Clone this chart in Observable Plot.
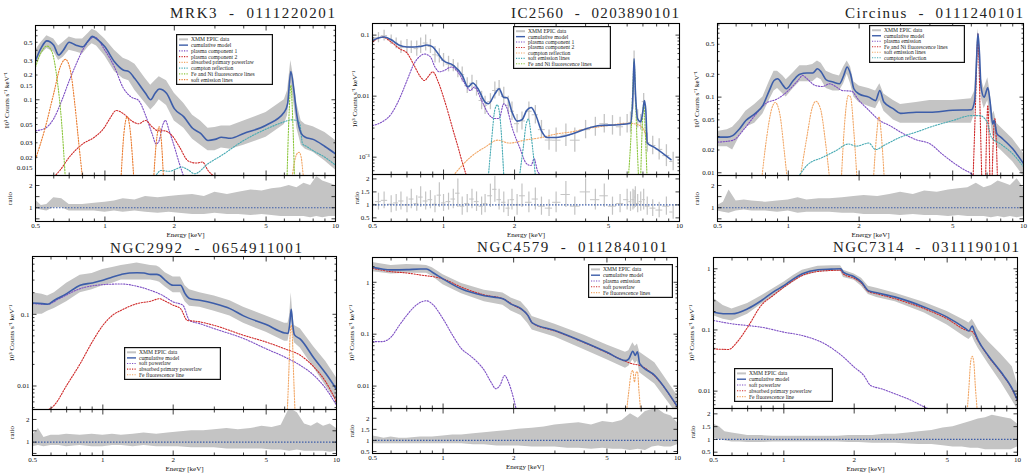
<!DOCTYPE html>
<html><head><meta charset="utf-8">
<script src="https://cdn.jsdelivr.net/npm/d3@7"></script>
<script src="https://cdn.jsdelivr.net/npm/@observablehq/plot@0.6"></script>
<style>
html,body{margin:0;padding:0;background:#fff;}
#root{position:relative;width:1030px;height:474px;overflow:hidden;background:#fff;font-family:"Liberation Serif",serif;}
</style></head><body><div id="root"></div>
<script>
// ---------- colours ----------
const GREY="#c4c4c4", BLUE="#3c5da9", PURPLE="#7d4fc4", RED="#cf2a2a", LORANGE="#f2a766", ORANGE="#ea7b2e", TEAL="#46aab3", GREEN="#8cc63e";

// ---------- shared axes ----------
const X_TICKS = [0.5, 1, 2, 5, 10];
const X_MINOR = [0.6, 0.7, 0.8, 0.9, 3, 4, 6, 7, 8, 9];
const R_E = [0.5,0.53,0.56,0.6,0.65,0.7,0.8,0.9,1,1.1,1.2,1.35,1.5,1.7,1.9,2.1,2.4,2.7,3,3.4,3.8,4.3,4.8,5.3,5.8,6.3,6.8,7.3,7.8,8.3,8.8,9.4,10];

// ---------- MRK3 ----------
const mrk3_title = "MRK3  -  0111220201";
const mrk3_yTicks = [0.7,0.5,0.3,0.2,0.15,0.1,0.08,0.05,0.03,0.02,0.015];
const mrk3_rTicks = [1,2];
const mrk3_E = [0.5,0.53,0.56,0.6,0.63,0.66,0.7,0.75,0.8,0.85,0.88,0.92,1.0,1.1,1.2,1.27,1.35,1.5,1.58,1.65,1.72,1.85,2.0,2.2,2.4,2.6,2.8,3.0,3.2,3.5,4.0,5.0,6.0,6.2,6.4,6.6,6.8,7.1,7.4,8,9,10];
const mrk3_model = [0.3,0.43,0.52,0.46,0.35,0.4,0.5,0.46,0.44,0.53,0.59,0.55,0.44,0.29,0.23,0.22,0.18,0.12,0.1,0.12,0.135,0.12,0.078,0.062,0.045,0.039,0.032,0.033,0.035,0.034,0.039,0.049,0.071,0.09,0.22,0.13,0.064,0.039,0.035,0.033,0.027,0.022];
const mrk3_lo = [0.25,0.36,0.42,0.38,0.3,0.33,0.4,0.38,0.36,0.44,0.48,0.45,0.34,0.22,0.18,0.17,0.13,0.09,0.075,0.085,0.1,0.085,0.055,0.045,0.033,0.028,0.024,0.024,0.026,0.025,0.028,0.035,0.05,0.065,0.16,0.09,0.045,0.028,0.025,0.023,0.018,0.014];
const mrk3_hi = [0.4,0.5,0.6,0.55,0.45,0.5,0.58,0.55,0.55,0.65,0.72,0.68,0.55,0.4,0.32,0.3,0.27,0.18,0.15,0.17,0.19,0.17,0.12,0.09,0.065,0.055,0.045,0.046,0.048,0.048,0.055,0.07,0.1,0.13,0.3,0.18,0.09,0.055,0.05,0.047,0.04,0.032];
const mrk3_p1_E = [0.5,0.55,0.6,0.65,0.7,0.75,0.8,0.85,0.9,1.0,1.1,1.2,1.3,1.4,1.5,1.6,1.67,1.72,1.78,1.83,1.9,2.0,2.1,2.2];
const mrk3_p1_V = [0.042,0.045,0.059,0.098,0.17,0.27,0.4,0.52,0.58,0.4,0.25,0.14,0.108,0.098,0.065,0.039,0.029,0.032,0.049,0.056,0.042,0.027,0.017,0.0115];
const mrk3_p2_E = [0.59,0.64,0.7,0.8,0.9,1.0,1.05,1.12,1.2,1.3,1.4,1.5,1.6,1.7,1.8,1.95,2.1,2.3,2.5,2.65,2.8,3.1];
const mrk3_p2_V = [0.011,0.014,0.02,0.029,0.035,0.047,0.059,0.074,0.068,0.056,0.051,0.056,0.047,0.042,0.042,0.037,0.027,0.018,0.017,0.0175,0.0138,0.011];
const mrk3_abs_E = [6.45,6.6,6.8,6.95,7.1,7.25,7.4];
const mrk3_abs_V = [0.01,0.016,0.022,0.023,0.02,0.012,0.009];
const mrk3_cr_E = [1.65,1.75,1.9,2.05,2.15,2.3,2.45,2.8,3.2,4,5,6,6.4,6.8,7.0,7.2,7.5,8,9,10];
const mrk3_cr_V = [0.0115,0.0138,0.0135,0.0145,0.0152,0.014,0.0126,0.0167,0.021,0.032,0.044,0.054,0.057,0.056,0.051,0.029,0.027,0.024,0.02,0.016];
const mrk3_fe_E = [[0.5,0.53,0.56,0.59,0.62,0.65,0.675],[6.15,6.28,6.4,6.52,6.65]];
const mrk3_fe_V = [[0.25,0.38,0.45,0.38,0.18,0.05,0.01],[0.009,0.06,0.15,0.06,0.009]];
const mrk3_soft_E = [[0.5,0.55,0.6,0.64,0.675,0.71,0.74,0.77,0.8],[1.17,1.21,1.25,1.29,1.34],[1.62,1.67,1.72,1.76,1.8]];
const mrk3_soft_V = [[0.019,0.045,0.12,0.25,0.31,0.22,0.09,0.03,0.011],[0.009,0.04,0.062,0.04,0.009],[0.009,0.03,0.047,0.03,0.009]];
const mrk3_rlo = [0.95,0.9,0.85,1.0,1.0,0.85,0.85,0.85,0.8,0.85,0.8,0.85,0.8,0.75,0.8,0.75,0.7,0.7,0.75,0.7,0.7,0.65,0.7,0.65,0.6,0.6,0.6,0.6,0.55,0.6,0.55,0.6,0.6];
const mrk3_rhi = [1.35,1.1,1.15,1.45,1.4,1.15,1.15,1.2,1.25,1.3,1.4,1.35,1.5,1.45,1.5,1.55,1.6,1.5,1.7,1.6,1.7,1.8,1.75,1.85,1.9,2.0,1.9,2.1,2.0,2.4,2.2,2.1,2.0];

// ---------- IC2560 ----------
const ic_title = "IC2560  -  0203890101";
const ic_yTicks = [0.1,0.01,0.001];
const ic_rTicks = [0.5,1,1.5,2];
const ic_E = [0.5,0.53,0.56,0.6,0.65,0.7,0.75,0.8,0.85,0.9,0.95,1.0,1.1,1.2,1.27,1.33,1.4,1.5,1.55,1.65,1.72,1.8,1.86,1.95,2.05,2.15,2.25,2.35,2.45,2.6,2.75,3.0,3.5,4.0,4.6,5.5,6.2,6.35,6.42,6.5,6.65,6.85,7.0,7.1,7.2,7.3,7.8,9.2];
const ic_model = [0.082,0.09,0.093,0.084,0.068,0.064,0.064,0.065,0.069,0.064,0.049,0.038,0.032,0.022,0.0141,0.0164,0.0132,0.008,0.0075,0.0109,0.0132,0.0095,0.0094,0.0055,0.0039,0.0041,0.0058,0.0065,0.0051,0.0027,0.0021,0.0021,0.0024,0.0029,0.0033,0.0034,0.0036,0.011,0.041,0.0124,0.0042,0.0038,0.0058,0.0085,0.0058,0.0017,0.00146,0.00091];
const ic_dE = [0.5,0.53,0.56,0.6,0.63,0.66,0.7,0.73,0.77,0.8,0.84,0.88,0.92,0.96,1.0,1.05,1.1,1.15,1.2,1.26,1.32,1.38,1.45,1.5,1.58,1.65,1.72,1.8,1.88,1.95,2.05,2.15,2.3,2.45,2.6,2.8,3.0,3.3,3.6,4.0,4.4,4.8,5.2,5.6,6.0,6.2,6.35,6.42,6.5,6.65,6.85,7.05,7.3,7.7,8.2,8.8,9.4];
const ic_lo = [0.07,0.075,0.08,0.07,0.06,0.05,0.05,0.05,0.045,0.05,0.055,0.05,0.035,0.035,0.03,0.025,0.025,0.02,0.017,0.011,0.012,0.01,0.006,0.005,0.006,0.009,0.01,0.007,0.005,0.004,0.0025,0.0028,0.004,0.0035,0.002,0.0013,0.0012,0.0015,0.0012,0.002,0.0022,0.0025,0.0023,0.0022,0.0025,0.0025,0.006,0.03,0.008,0.003,0.0028,0.006,0.0012,0.0011,0.0009,0.0007,0.0006];
const ic_hi = [0.1,0.11,0.12,0.1,0.09,0.08,0.085,0.08,0.08,0.09,0.1,0.085,0.065,0.06,0.05,0.045,0.04,0.035,0.03,0.02,0.022,0.018,0.012,0.01,0.011,0.017,0.018,0.014,0.01,0.008,0.005,0.0055,0.008,0.007,0.004,0.0028,0.003,0.0035,0.003,0.004,0.0045,0.005,0.0048,0.0045,0.005,0.0055,0.014,0.055,0.015,0.006,0.005,0.011,0.0025,0.0022,0.002,0.0016,0.0012];
const ic_rlo = [0.75,0.8,0.85,0.7,0.75,0.8,0.7,0.85,0.75,0.9,0.8,0.85,0.7,0.9,0.75,0.8,0.85,0.9,0.6,0.7,0.85,0.75,0.6,0.7,0.9,1.1,0.8,0.7,0.55,0.8,0.6,0.9,0.7,0.8,0.6,0.55,0.7,0.9,0.6,1.0,0.8,0.9,0.6,0.7,0.8,0.75,0.8,0.85,0.9,0.7,0.75,0.8,0.6,0.55,0.5,0.6,0.45];
const ic_rhi = [1.3,1.45,1.5,1.35,1.4,1.5,1.3,1.6,1.35,1.7,1.5,1.55,1.35,1.85,1.4,1.45,1.6,2.0,1.3,1.4,1.6,1.5,1.3,1.4,1.8,2.1,1.6,1.5,1.2,1.6,1.4,1.8,1.5,1.65,1.3,1.2,1.5,1.9,1.3,2.0,1.6,1.8,1.3,1.4,1.6,1.5,1.6,1.55,1.7,1.4,1.5,1.6,1.3,1.2,1.1,1.3,1.0];
const ic_p1_E = [0.5,0.55,0.6,0.65,0.7,0.75,0.8,0.83,0.88,0.92,0.96,1.0,1.08,1.15,1.22,1.3,1.35,1.45,1.55,1.65,1.72,1.8,1.85,1.95,2.1,2.25,2.35,2.42,2.5,2.6];
const ic_p1_V = [0.0033,0.0038,0.0051,0.009,0.018,0.034,0.046,0.049,0.044,0.03,0.025,0.026,0.03,0.025,0.017,0.0124,0.0141,0.0085,0.0051,0.0043,0.0043,0.0075,0.0066,0.0031,0.00145,0.00078,0.00073,0.00094,0.0006,0.0005];
const ic_p2_E = [0.5,0.55,0.6,0.65,0.7,0.75,0.8,0.83,0.87,0.9,0.95,1.0,1.05,1.1,1.15,1.2,1.25];
const ic_p2_V = [0.077,0.093,0.077,0.06,0.051,0.032,0.0205,0.018,0.022,0.025,0.017,0.0096,0.0051,0.0027,0.0015,0.00083,0.0005];
const ic_cr_E = [1.1,1.3,1.5,1.7,1.9,2.2,2.6,3.0,3.5,4,5,6,6.5,7,7.3];
const ic_cr_V = [0.0005,0.001,0.00146,0.0019,0.0017,0.0019,0.0021,0.0024,0.0026,0.0029,0.0033,0.0036,0.0035,0.003,0.0017];
const ic_soft_E = [[1.55,1.6,1.65,1.69,1.74,1.8],[2.1,2.18,2.24,2.29,2.36,2.45]];
const ic_soft_V = [[0.0005,0.002,0.006,0.0072,0.004,0.0005],[0.0005,0.0015,0.0035,0.0042,0.002,0.0005]];
const ic_fe_E = [[6.08,6.25,6.35,6.42,6.5,6.6,6.7],[6.85,6.95,7.05,7.15,7.28]];
const ic_fe_V = [[0.0005,0.003,0.015,0.038,0.012,0.002,0.0005],[0.0005,0.003,0.0075,0.003,0.0005]];

// ---------- Circinus ----------
const cir_title = "Circinus  -  0111240101";
const cir_yTicks = [0.5,0.2,0.1,0.05,0.02,0.01];
const cir_rTicks = [1,2];
const cir_E = [0.5,0.55,0.58,0.62,0.66,0.72,0.78,0.83,0.87,0.9,0.95,0.98,1.05,1.12,1.2,1.27,1.33,1.38,1.45,1.55,1.65,1.72,1.78,1.84,1.9,2.0,2.2,2.35,2.45,2.55,2.8,3.0,3.5,4.0,5.0,6.0,6.2,6.3,6.4,6.5,6.6,6.8,7.05,7.2,7.4,7.5,7.7,8.0,9.0,10];
const cir_model = [0.0296,0.0296,0.031,0.038,0.049,0.06,0.078,0.122,0.166,0.175,0.143,0.129,0.166,0.2,0.208,0.208,0.237,0.215,0.169,0.158,0.15,0.193,0.25,0.2,0.129,0.11,0.1,0.09,0.122,0.086,0.07,0.061,0.063,0.063,0.067,0.068,0.09,0.25,0.69,0.37,0.136,0.1,0.133,0.09,0.044,0.049,0.033,0.0296,0.0207,0.0132];
const cir_lo = [0.022,0.022,0.02,0.03,0.04,0.045,0.06,0.09,0.12,0.13,0.11,0.1,0.13,0.16,0.16,0.16,0.18,0.17,0.13,0.12,0.12,0.15,0.2,0.15,0.1,0.085,0.075,0.07,0.09,0.065,0.05,0.045,0.045,0.045,0.045,0.045,0.06,0.18,0.55,0.28,0.1,0.07,0.09,0.06,0.03,0.033,0.022,0.02,0.014,0.009];
const cir_hi = [0.035,0.037,0.04,0.05,0.065,0.08,0.1,0.16,0.22,0.22,0.19,0.17,0.21,0.26,0.26,0.27,0.3,0.28,0.22,0.2,0.19,0.25,0.3,0.25,0.16,0.14,0.13,0.12,0.15,0.11,0.09,0.08,0.085,0.09,0.09,0.095,0.12,0.32,0.8,0.5,0.18,0.13,0.18,0.12,0.06,0.065,0.045,0.04,0.028,0.018];
const cir_pl_E = [0.5,0.58,0.65,0.72,0.8,0.9,1.0,1.1,1.15,1.2,1.3,1.4,1.5,1.6,1.7,1.85,2.0,2.2,2.45,2.7,3.0,3.5,4.0,4.5,5.0,5.5,6.0,6.3];
const cir_pl_V = [0.0254,0.0268,0.038,0.057,0.082,0.095,0.122,0.166,0.193,0.175,0.143,0.138,0.15,0.136,0.122,0.12,0.09,0.067,0.049,0.042,0.0345,0.0273,0.0242,0.0178,0.0138,0.0113,0.0097,0.0085];
const cir_fe_E = [[6.1,6.25,6.35,6.4,6.45,6.55,6.65],[6.9,6.98,7.05,7.12,7.2],[7.35,7.45,7.55,7.65,7.75]];
const cir_fe_V = [[0.008,0.08,0.4,0.68,0.4,0.05,0.008],[0.008,0.04,0.078,0.04,0.008],[0.008,0.03,0.052,0.03,0.008]];
const cir_soft_E = [[0.77,0.81,0.85,0.88,0.92,0.96,0.99],[1.12,1.2,1.26,1.31,1.37,1.44,1.5],[1.68,1.74,1.8,1.84,1.9,1.96],[2.3,2.37,2.43,2.49,2.56]];
const cir_soft_V = [[0.008,0.03,0.07,0.085,0.06,0.02,0.008],[0.008,0.03,0.07,0.088,0.07,0.025,0.008],[0.008,0.05,0.105,0.1,0.035,0.008],[0.008,0.03,0.055,0.03,0.008]];
const cir_cr_E = [1.12,1.2,1.4,1.6,1.8,1.95,2.2,2.35,2.6,3,3.5,4,5,6,6.5,7,7.3,8,9,10];
const cir_cr_V = [0.0095,0.0125,0.016,0.0197,0.024,0.0225,0.0247,0.0203,0.0237,0.0296,0.0345,0.04,0.049,0.057,0.057,0.047,0.0296,0.024,0.0178,0.012];
const cir_rlo = [0.85,0.8,0.75,0.85,0.9,0.85,0.85,0.8,0.85,0.75,0.8,0.8,0.8,0.75,0.75,0.7,0.7,0.7,0.65,0.7,0.65,0.65,0.6,0.65,0.6,0.6,0.6,0.55,0.6,0.55,0.6,0.55,0.6];
const cir_rhi = [1.1,1.25,1.8,1.3,1.35,1.3,1.25,1.3,1.35,1.45,1.35,1.4,1.4,1.45,1.5,1.55,1.5,1.6,1.7,1.6,1.75,1.7,1.8,1.85,1.9,2.1,1.9,2.0,2.2,2.1,2.0,2.3,1.9];

// ---------- NGC2992 ----------
const n2992_title = "NGC2992  -  0654911001";
const n2992_yTicks = [0.1,0.01];
const n2992_rTicks = [1,2];
const n2992_E = [0.5,0.55,0.58,0.62,0.7,0.8,0.9,1.0,1.1,1.2,1.3,1.4,1.5,1.6,1.7,1.75,1.85,2.0,2.15,2.25,2.35,2.6,3.0,3.5,4.0,5.0,6.0,6.2,6.3,6.4,6.5,6.6,7.0,8.0,9.0,10];
const n2992_model = [0.144,0.141,0.138,0.157,0.194,0.254,0.274,0.298,0.332,0.36,0.377,0.38,0.377,0.36,0.36,0.35,0.298,0.254,0.254,0.194,0.166,0.157,0.141,0.12,0.095,0.072,0.055,0.054,0.07,0.117,0.07,0.052,0.045,0.0246,0.0149,0.009];
const n2992_lo = [0.1,0.1,0.11,0.12,0.15,0.2,0.22,0.25,0.27,0.3,0.3,0.3,0.3,0.3,0.29,0.28,0.24,0.2,0.2,0.15,0.13,0.125,0.11,0.095,0.075,0.056,0.042,0.042,0.055,0.09,0.055,0.04,0.034,0.018,0.01,0.006];
const n2992_hi = [0.2,0.19,0.18,0.2,0.27,0.35,0.37,0.42,0.45,0.48,0.5,0.52,0.5,0.48,0.47,0.45,0.38,0.33,0.33,0.25,0.22,0.2,0.18,0.155,0.125,0.095,0.075,0.075,0.095,0.2,0.1,0.07,0.063,0.035,0.022,0.013];
const n2992_sp_E = [0.5,0.58,0.65,0.8,1.0,1.2,1.4,1.6,1.8,2.0,2.2,2.35,2.6,3.0,4.0,5.0,6.0,7.0,8.0,9.0,10];
const n2992_sp_V = [0.141,0.138,0.165,0.228,0.259,0.265,0.246,0.216,0.184,0.149,0.134,0.082,0.074,0.063,0.046,0.033,0.0254,0.0194,0.0141,0.0092,0.0054];
const n2992_ap_E = [0.56,0.62,0.7,0.8,0.9,1.0,1.1,1.2,1.4,1.6,1.75,1.85,2.0,2.15,2.3,2.5,3.0,4.0,5.0,6.0,7.0,8.0,9.0,10];
const n2992_ap_V = [0.0044,0.0054,0.0102,0.0205,0.041,0.07,0.097,0.114,0.141,0.152,0.165,0.152,0.134,0.12,0.082,0.08,0.07,0.051,0.041,0.033,0.0268,0.0184,0.0114,0.006];
const n2992_fe_E = [[6.15,6.25,6.33,6.4,6.47,6.55,6.65]];
const n2992_fe_V = [[0.004,0.015,0.05,0.07,0.05,0.015,0.004]];
const n2992_rlo = [0.8,0.85,0.8,0.85,0.85,0.8,0.85,0.8,0.8,0.85,0.85,0.8,0.85,0.8,0.8,0.8,0.75,0.75,0.75,0.7,0.7,0.7,0.7,0.65,0.65,0.6,0.65,0.6,0.6,0.6,0.6,0.55,0.6];
const n2992_rhi = [1.3,1.6,1.2,1.3,1.3,1.35,1.3,1.35,1.3,1.35,1.3,1.35,1.4,1.35,1.4,1.45,1.5,1.5,1.55,1.6,1.55,1.6,1.7,1.65,1.75,2.5,2.3,1.8,1.7,1.85,1.7,1.8,1.6];

// ---------- NGC4579 ----------
const n4579_title = "NGC4579  -  0112840101";
const n4579_yTicks = [1,0.1,0.01];
const n4579_rTicks = [0.5,1,1.5,2];
const n4579_E = [0.5,0.6,0.7,0.8,0.85,0.9,1.0,1.2,1.5,1.8,1.95,2.15,2.3,2.4,3.0,4.0,5.0,6.0,6.2,6.45,6.6,6.75,6.9,8.0,10];
const n4579_model = [1.94,1.73,1.75,1.8,1.8,1.56,1.16,0.74,0.55,0.48,0.38,0.31,0.23,0.165,0.118,0.07,0.045,0.031,0.0335,0.047,0.039,0.046,0.027,0.016,0.004];
const n4579_lo = [1.6,1.45,1.5,1.5,1.5,1.3,0.9,0.6,0.42,0.36,0.28,0.23,0.16,0.12,0.088,0.05,0.032,0.022,0.024,0.032,0.027,0.03,0.018,0.011,0.0028];
const n4579_hi = [2.4,2.1,2.2,2.15,2.1,1.9,1.4,0.95,0.7,0.62,0.5,0.42,0.3,0.22,0.155,0.095,0.062,0.045,0.048,0.068,0.058,0.065,0.045,0.028,0.0065];
const n4579_pl_E = [0.5,0.55,0.6,0.65,0.7,0.75,0.8,0.85,0.9,1.0,1.1,1.2,1.3,1.4,1.5,1.6,1.68,1.75,1.83,1.9,2.0,2.05];
const n4579_pl_V = [0.072,0.072,0.088,0.147,0.23,0.33,0.41,0.44,0.38,0.197,0.094,0.052,0.039,0.029,0.02,0.012,0.0089,0.0104,0.016,0.012,0.0057,0.0036];
const n4579_sp_E = [0.5,0.6,0.7,0.8,1.0,1.2,1.5,1.8,2.0,2.3,2.4,3.0,4.0,5.0,6.0,6.4,6.9,8.0,10];
const n4579_sp_V = [1.86,1.6,1.51,1.38,1.16,0.8,0.57,0.48,0.36,0.23,0.165,0.115,0.069,0.044,0.03,0.027,0.025,0.0155,0.0039];
const n4579_fe_E = [[6.05,6.2,6.35,6.45,6.55,6.65,6.75,6.85,6.98]];
const n4579_fe_V = [[0.003,0.008,0.018,0.02,0.012,0.018,0.019,0.008,0.003]];
const n4579_rlo = [0.85,0.85,0.85,0.85,0.85,0.85,0.85,0.85,0.85,0.85,0.85,0.8,0.8,0.75,0.75,0.75,0.7,0.7,0.7,0.65,0.65,0.6,0.65,0.6,0.6,0.55,0.6,0.55,0.7,0.75,0.7,0.7,0.8];
const n4579_rhi = [1.2,1.15,1.1,1.15,1.1,1.1,1.15,1.15,1.2,1.25,1.25,1.3,1.35,1.4,1.45,1.5,1.55,1.6,1.7,1.75,1.8,1.7,1.85,1.8,1.9,2.2,2.0,2.3,2.4,2.4,2.2,2.1,1.8];

// ---------- NGC7314 ----------
const n7314_title = "NGC7314  -  0311190101";
const n7314_yTicks = [1,0.1,0.01];
const n7314_rTicks = [0.5,1,1.5,2];
const n7314_E = [0.5,0.55,0.6,0.7,0.8,0.9,1.0,1.1,1.2,1.4,1.6,1.75,1.8,2.0,2.15,2.3,2.5,3.0,4.0,5.0,6.0,6.2,6.4,6.55,6.8,7.5,8.5,9.5,10];
const n7314_model = [0.196,0.184,0.184,0.222,0.30,0.416,0.53,0.686,0.83,0.963,0.987,1.0,0.87,0.74,0.605,0.44,0.405,0.344,0.236,0.162,0.105,0.096,0.116,0.093,0.067,0.038,0.0205,0.0109,0.0071];
const n7314_lo = [0.17,0.15,0.14,0.18,0.26,0.35,0.47,0.6,0.75,0.88,0.9,0.9,0.72,0.65,0.52,0.38,0.34,0.29,0.19,0.12,0.075,0.07,0.08,0.065,0.05,0.028,0.014,0.007,0.005];
const n7314_hi = [0.33,0.25,0.22,0.27,0.36,0.47,0.6,0.78,0.95,1.1,1.12,1.12,0.95,0.82,0.7,0.52,0.48,0.4,0.28,0.2,0.14,0.13,0.15,0.13,0.1,0.065,0.04,0.025,0.013];
const n7314_sp_E = [0.5,0.6,0.7,0.8,1.0,1.2,1.5,1.8,2.0,2.2,2.35,2.6,3.0,3.5,4.0,4.2];
const n7314_sp_V = [0.143,0.126,0.118,0.111,0.092,0.081,0.059,0.036,0.0247,0.018,0.0124,0.011,0.009,0.0071,0.0055,0.0051];
const n7314_ap_E = [0.5,0.58,0.63,0.7,0.8,0.9,1.0,1.1,1.2,1.4,1.6,1.75,1.8,2.0,2.15,2.3,2.5,3.0,4.0,5.0,6.0,6.4,6.8,7.5,8.5,9.5,10];
const n7314_ap_V = [0.049,0.048,0.063,0.111,0.252,0.366,0.5,0.645,0.778,0.905,0.94,0.95,0.82,0.7,0.58,0.426,0.39,0.323,0.222,0.152,0.1,0.094,0.065,0.037,0.02,0.0106,0.0069];
const n7314_fe_E = [[6.1,6.2,6.3,6.4,6.5,6.6,6.72]];
const n7314_fe_V = [[0.005,0.012,0.03,0.037,0.03,0.012,0.005]];
const n7314_rlo = [1.05,1.0,0.95,0.9,0.9,0.88,0.88,0.9,0.9,0.9,0.9,0.9,0.9,0.9,0.88,0.88,0.85,0.85,0.85,0.82,0.8,0.8,0.75,0.7,0.7,0.65,0.65,0.6,0.6,0.6,0.6,0.6,0.7];
const n7314_rhi = [1.6,1.5,1.3,1.25,1.2,1.15,1.15,1.12,1.12,1.12,1.12,1.12,1.12,1.12,1.15,1.15,1.15,1.2,1.2,1.25,1.3,1.35,1.45,1.5,1.6,1.7,1.8,1.85,1.95,1.9,1.85,1.8,1.6];

// ---------- helpers ----------
const pts = (E, V) => E.map((e, i) => ({e, v: V[i]}));
const band = (E, LO, HI) => E.map((e, i) => ({e, lo: LO[i], hi: HI[i]}));
const multi = (Es, Vs) => Es.map((E, k) => pts(E, Vs[k]));
function bars(E, LO, HI, geo) {
  return E.map((e, i) => ({
    e, lo: LO[i], hi: HI[i],
    mid: geo ? Math.sqrt(LO[i] * HI[i]) : (LO[i] + HI[i]) / 2,
    x1: i > 0 ? Math.sqrt(E[i - 1] * e) : e,
    x2: i < E.length - 1 ? Math.sqrt(E[i + 1] * e) : e
  }));
}
const DATA_L = "XMM EPIC data", MODEL_L = "cumulative model";

const panels = [
  { title: mrk3_title, tx: [170, 335, 18], left0: 0, frame: [35, 335], main: [25, 175], ratio: [175, 221],
    yDom: [0.012, 0.8], yTicks: mrk3_yTicks, rDom: [0.38, 2.45], rTicks: mrk3_rTicks, yOff: 31, rOff: 28,
    model: pts(mrk3_E, mrk3_model), data: band(mrk3_E, mrk3_lo, mrk3_hi), rdata: band(R_E, mrk3_rlo, mrk3_rhi),
    comps: [
      {c: PURPLE, s: [pts(mrk3_p1_E, mrk3_p1_V)]}, {c: RED, s: [pts(mrk3_p2_E, mrk3_p2_V)]},
      {c: LORANGE, s: [pts(mrk3_abs_E, mrk3_abs_V)]}, {c: TEAL, s: [pts(mrk3_cr_E, mrk3_cr_V)]},
      {c: GREEN, s: multi(mrk3_fe_E, mrk3_fe_V)}, {c: ORANGE, s: multi(mrk3_soft_E, mrk3_soft_V)}],
    legend: {box: [176, 34, 97, 51], items: [[DATA_L, "data"], [MODEL_L, "model"], ["plasma component 1", PURPLE], ["plasma component 2", RED], ["absorbed primary powerlaw", LORANGE], ["compton reflection", TEAL], ["Fe and Ni fluorescence lines", GREEN], ["soft emission lines", ORANGE]]} },
  { title: ic_title, tx: [511, 679, 18], left0: 345, frame: [372, 679], main: [23, 174], ratio: [174, 221],
    yDom: [0.00052, 0.155], yTicks: ic_yTicks, yFmt: d => d === 0.001 ? "10⁻³" : String(d), rDom: [0.36, 2.17], rTicks: ic_rTicks, yOff: 20, rOff: 18,
    model: pts(ic_E, ic_model), bars: bars(ic_dE, ic_lo, ic_hi, true), rbars: bars(ic_dE, ic_rlo, ic_rhi, false),
    comps: [
      {c: PURPLE, s: [pts(ic_p1_E, ic_p1_V)]}, {c: RED, s: [pts(ic_p2_E, ic_p2_V)]},
      {c: LORANGE, s: [pts(ic_cr_E, ic_cr_V)]}, {c: TEAL, s: multi(ic_soft_E, ic_soft_V)},
      {c: GREEN, s: multi(ic_fe_E, ic_fe_V)}],
    legend: {box: [513, 26, 98, 43], items: [[DATA_L, "data"], [MODEL_L, "model"], ["plasma component 1", PURPLE], ["plasma component 2", RED], ["compton reflection", LORANGE], ["soft emission lines", TEAL], ["Fe and Ni fluorescence lines", GREEN]]} },
  { title: cir_title, tx: [845, 1023, 18], left0: 685, frame: [717, 1023], main: [23, 175], ratio: [175, 221],
    yDom: [0.0092, 0.94], yTicks: cir_yTicks, rDom: [0.38, 2.45], rTicks: cir_rTicks, yOff: 23, rOff: 23,
    model: pts(cir_E, cir_model), data: band(cir_E, cir_lo, cir_hi), rdata: band(R_E, cir_rlo, cir_rhi),
    comps: [
      {c: PURPLE, s: [pts(cir_pl_E, cir_pl_V)]}, {c: RED, s: multi(cir_fe_E, cir_fe_V)},
      {c: LORANGE, s: multi(cir_soft_E, cir_soft_V)}, {c: TEAL, s: [pts(cir_cr_E, cir_cr_V)]}],
    legend: {box: [869, 25, 96, 38], items: [[DATA_L, "data"], [MODEL_L, "model"], ["plasma emission", PURPLE], ["Fe and Ni fluorescence lines", RED], ["soft emission lines", LORANGE], ["compton reflection", TEAL]]} },
  { title: n2992_title, tx: [110, 302, 253], left0: 0, frame: [32, 336], main: [256, 409], ratio: [409, 455],
    yDom: [0.0047, 0.64], yTicks: n2992_yTicks, rDom: [0.41, 2.44], rTicks: n2992_rTicks, yOff: 23, rOff: 23,
    model: pts(n2992_E, n2992_model), data: band(n2992_E, n2992_lo, n2992_hi), rdata: band(R_E, n2992_rlo, n2992_rhi),
    comps: [
      {c: PURPLE, s: [pts(n2992_sp_E, n2992_sp_V)]}, {c: RED, s: [pts(n2992_ap_E, n2992_ap_V)]},
      {c: LORANGE, s: multi(n2992_fe_E, n2992_fe_V)}],
    legend: {box: [124, 347, 97, 33], items: [[DATA_L, "data"], [MODEL_L, "model"], ["soft powerlaw", PURPLE], ["absorbed primary powerlaw", RED], ["Fe fluorescence line", LORANGE]]} },
  { title: n4579_title, tx: [477, 667, 252], left0: 345, frame: [372, 677], main: [257, 408], ratio: [408, 453],
    yDom: [0.0037, 3.0], yTicks: n4579_yTicks, rDom: [0.41, 2.44], rTicks: n4579_rTicks, yOff: 23, rOff: 23,
    model: pts(n4579_E, n4579_model), data: band(n4579_E, n4579_lo, n4579_hi), rdata: band(R_E, n4579_rlo, n4579_rhi),
    comps: [
      {c: PURPLE, s: [pts(n4579_pl_E, n4579_pl_V)]}, {c: RED, s: [pts(n4579_sp_E, n4579_sp_V)]},
      {c: LORANGE, s: multi(n4579_fe_E, n4579_fe_V)}],
    legend: {box: [588, 264, 85, 34], items: [[DATA_L, "data"], [MODEL_L, "model"], ["plasma emission", PURPLE], ["soft powerlaw", RED], ["Fe fluorescence lines", LORANGE]]} },
  { title: n7314_title, tx: [833, 1019, 252], left0: 685, frame: [713, 1017], main: [257, 408], ratio: [408, 455],
    yDom: [0.0052, 1.53], yTicks: n7314_yTicks, rDom: [0.37, 2.21], rTicks: n7314_rTicks, yOff: 24, rOff: 23,
    model: pts(n7314_E, n7314_model), data: band(n7314_E, n7314_lo, n7314_hi), rdata: band(R_E, n7314_rlo, n7314_rhi),
    comps: [
      {c: PURPLE, s: [pts(n7314_sp_E, n7314_sp_V)]}, {c: RED, s: [pts(n7314_ap_E, n7314_ap_V)]},
      {c: LORANGE, s: multi(n7314_fe_E, n7314_fe_V)}],
    legend: {box: [734, 368, 99, 34], items: [[DATA_L, "data"], [MODEL_L, "model"], ["soft powerlaw", PURPLE], ["absorbed primary powerlaw", RED], ["Fe fluorescence line", LORANGE]]} }
];

const root = document.getElementById("root");
const FONT = "Liberation Serif";
function place(el, left, top) {
  el.style.position = "absolute"; el.style.left = left + "px"; el.style.top = top + "px";
  el.style.overflow = "visible"; root.appendChild(el);
}

// inward tick marks on all four sides
function inwardTicks(xMaj, xMin, yMaj, yMin) {
  const mk = (axis, anchor, ticks, size) => {
    const o = {anchor, ticks, tickSize: size, tickFormat: () => "", label: null, strokeWidth: 0.8};
    if (anchor === "bottom") o.dy = -size;
    if (anchor === "top") o.dy = size;
    if (anchor === "left") o.dx = size;
    if (anchor === "right") o.dx = -size;
    return axis === "x" ? Plot.axisX(o) : Plot.axisY(o);
  };
  const out = [];
  for (const a of ["top", "bottom"]) { out.push(mk("x", a, xMaj, 4.5)); out.push(mk("x", a, xMin, 2.5)); }
  for (const a of ["left", "right"]) { out.push(mk("y", a, yMaj, 4.5)); if (yMin.length) out.push(mk("y", a, yMin, 2.5)); }
  return out;
}

function logTicks(dom) {
  const t = d3.scaleLog().domain(dom).ticks();
  const isMaj = v => Math.abs(Math.log10(v) - Math.round(Math.log10(v))) < 1e-9;
  return {maj: t.filter(isMaj), min: t.filter(v => !isMaj(v))};
}

const dash = "1.3,1.5";

for (const p of panels) {
  const ml = p.frame[0] - p.left0;
  const W = p.frame[1] - p.left0 + 3;
  // ----- main spectrum -----
  const marks = [];
  if (p.bars) {
    marks.push(Plot.ruleX(p.bars, {x: "e", y1: "lo", y2: "hi", stroke: GREY, strokeWidth: 1.3, clip: true}));
    marks.push(Plot.ruleY(p.bars, {x1: "x1", x2: "x2", y: "mid", stroke: GREY, strokeWidth: 1, clip: true}));
  } else {
    marks.push(Plot.areaY(p.data, {x: "e", y1: "lo", y2: "hi", fill: GREY, clip: true}));
  }
  for (const c of p.comps) for (const s of c.s)
    marks.push(Plot.line(s, {x: "e", y: "v", stroke: c.c, strokeWidth: 1.1, strokeDasharray: dash, curve: "monotone-x", clip: true}));
  marks.push(Plot.line(p.model, {x: "e", y: "v", stroke: BLUE, strokeWidth: 1.6, curve: "monotone-x", clip: true}));
  const lt = logTicks(p.yDom);
  marks.push(...inwardTicks(X_TICKS, X_MINOR, lt.maj, lt.min));
  marks.push(Plot.axisY({anchor: "left", ticks: p.yTicks, tickSize: 0, tickPadding: 3, tickFormat: p.yFmt || (d => String(d)),
    fontSize: 7, label: "10³ Counts s⁻¹ keV⁻¹", labelArrow: "none", labelAnchor: "center", labelOffset: p.yOff}));
  marks.push(Plot.frame({stroke: "#000", strokeWidth: 1.1}));
  const mainH = p.main[1] - p.main[0];
  const mainSvg = Plot.plot({
    width: W, height: mainH + 3, marginLeft: ml, marginRight: 3, marginTop: 2, marginBottom: 1,
    x: {type: "log", domain: [0.5, 10], label: null}, y: {type: "log", domain: p.yDom, label: null},
    style: {fontFamily: FONT, fontSize: "7px", background: "transparent", color: "#111", overflow: "visible"},
    marks
  });
  place(mainSvg, p.left0, p.main[0] - 2);

  // ----- ratio -----
  const rm = [];
  if (p.rbars) {
    rm.push(Plot.ruleX(p.rbars, {x: "e", y1: "lo", y2: "hi", stroke: GREY, strokeWidth: 1.2, clip: true}));
    rm.push(Plot.ruleY(p.rbars, {x1: "x1", x2: "x2", y: "mid", stroke: GREY, strokeWidth: 1, clip: true}));
  } else {
    rm.push(Plot.areaY(p.rdata, {x: "e", y1: "lo", y2: "hi", fill: GREY, clip: true}));
  }
  rm.push(Plot.ruleY([1], {stroke: BLUE, strokeWidth: 1.1, strokeDasharray: "1.5,1.5"}));
  rm.push(...inwardTicks(X_TICKS, X_MINOR, [0.5, 1, 1.5, 2].filter(v => v > p.rDom[0] && v < p.rDom[1]), []));
  rm.push(Plot.axisY({anchor: "left", ticks: p.rTicks, tickSize: 0, tickPadding: 3, tickFormat: d => String(d), fontSize: 7,
    label: "ratio", labelArrow: "none", labelAnchor: "center", labelOffset: p.rOff}));
  rm.push(Plot.axisX({anchor: "bottom", ticks: X_TICKS, tickSize: 0, tickPadding: 2, tickFormat: d => String(d), fontSize: 7,
    label: "Energy [keV]", labelArrow: "none", labelAnchor: "center", labelOffset: 15}));
  rm.push(Plot.frame({stroke: "#000", strokeWidth: 1.1}));
  const rH = p.ratio[1] - p.ratio[0];
  const rSvg = Plot.plot({
    width: W, height: rH + 19, marginLeft: ml, marginRight: 3, marginTop: 1, marginBottom: 18,
    x: {type: "log", domain: [0.5, 10], label: null}, y: {domain: p.rDom, label: null},
    style: {fontFamily: FONT, fontSize: "7px", background: "transparent", color: "#111", overflow: "visible"},
    marks: rm
  });
  place(rSvg, p.left0, p.ratio[0] - 1);

  // ----- title -----
  const [tx1, tx2, tb] = p.tx;
  root.insertAdjacentHTML("beforeend",
    `<svg style="position:absolute;left:${tx1 - 2}px;top:${tb - 16}px;overflow:visible" width="${tx2 - tx1 + 4}" height="20">` +
    `<text x="2" y="16" textLength="${tx2 - tx1}" lengthAdjust="spacing" font-family="${FONT}" font-size="15" fill="#222" xml:space="preserve">${p.title}</text></svg>`);

  // ----- legend -----
  const [lx, ly, lw, lh] = p.legend.box, items = p.legend.items;
  const pad = 2.5, rowH = (lh - 2 * pad) / items.length;
  let s = `<svg style="position:absolute;left:${lx}px;top:${ly}px" width="${lw}" height="${lh}">` +
    `<rect x="0.6" y="0.6" width="${lw - 1.2}" height="${lh - 1.2}" fill="#fff" stroke="#111" stroke-width="1.2"/>`;
  items.forEach(([label, kind], i) => {
    const cy = (pad + rowH * (i + 0.5)).toFixed(2);
    const st = kind === "data" ? `stroke="${GREY}" stroke-width="2"` :
      kind === "model" ? `stroke="${BLUE}" stroke-width="1.4"` :
      `stroke="${kind}" stroke-width="1.1" stroke-dasharray="1.2,1.3"`;
    s += `<line x1="3" x2="12" y1="${cy}" y2="${cy}" ${st}/>` +
      `<text x="15" y="${cy}" dy="0.35em" font-family="${FONT}" font-size="5.6" fill="#222">${label}</text>`;
  });
  root.insertAdjacentHTML("beforeend", s + "</svg>");
}
</script></body></html>
